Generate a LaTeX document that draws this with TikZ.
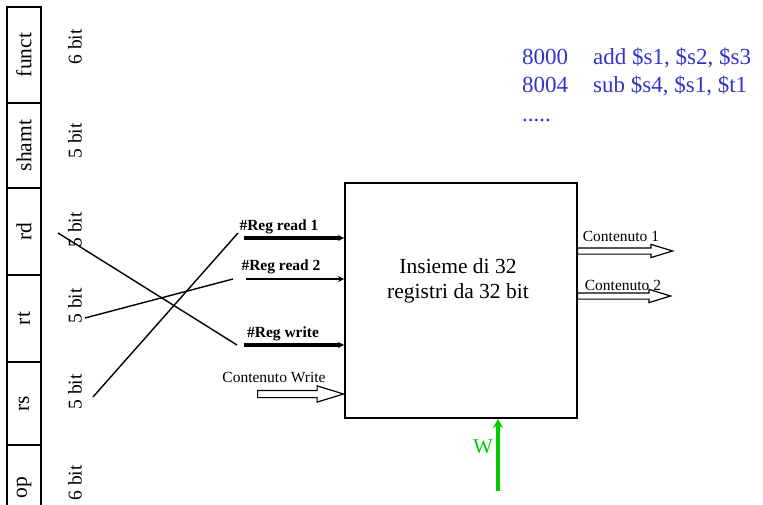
\documentclass[tikz,border=0pt]{standalone}
\usepackage{fontspec}
\setmainfont{Liberation Serif}
\usetikzlibrary{arrows.meta,shapes.arrows}
\definecolor{codeblue}{RGB}{51,51,204}
\definecolor{wgreen}{RGB}{0,204,0}

\tikzset{
  field/.style={draw, line width=1.5pt, rotate=90, minimum height=34pt, inner sep=0pt,
    font=\fontsize{21.5}{24}\selectfont},
  bits/.style={rotate=90, inner sep=0pt, font=\fontsize{19.5}{22}\selectfont},
  wire/.style={line width=1.4pt},
  portlabel/.style={anchor=base, inner sep=0pt, font=\fontsize{15.5}{18}\selectfont},
  code/.style={anchor=base west, inner sep=0pt, text=codeblue, font=\fontsize{23}{28}\selectfont},
  hollow/.style={single arrow, draw, line width=1.2pt, anchor=tail, inner xsep=0pt,
    inner ysep=3pt, single arrow head extend=4.5pt, single arrow tip angle=34,
    minimum height=#1},
}

\begin{document}
\begin{tikzpicture}[x=1pt, y=-1pt, >={Stealth[length=6pt,width=6pt]}]
    \useasboundingbox (0,0) rectangle (763,505);

    % instruction fields
    \foreach \name/\y/\h in {funct/55/96, shamt/145.5/85, rd/231.5/87, rt/318.5/87, rs/403.5/83, op/487.5/85} {
        \node[field, minimum width=\h pt] (\name) at (24,\y) {\name};
    }
    \foreach \y/\n in {47/6, 141/5, 230/5, 306/5, 392/5, 483/6} {
        \node[bits] (bit\y) at (75,\y) {\n\ bit};
    }

    % register file
    \node[draw, line width=1.8pt, minimum width=232pt, minimum height=235pt] (regs) at (461,300.5) {};
    \node[align=center, font=\fontsize{21.5}{25}\selectfont] (regtext) at (458,281) {Insieme di 32\\ registri da 32 bit};

    % inputs
    \coordinate (in1) at (244,238);
    \coordinate (in2) at (246,279);
    \coordinate (in3) at (244,345);
    \draw[->, line width=3.5pt] (in1) -- (in1 -| regs.west);
    \draw[->, line width=1.5pt] (in2) -- (in2 -| regs.west);
    \draw[->, line width=3.5pt] (in3) -- (in3 -| regs.west);
    \node[portlabel] (lab1) at (279,231) {\bfseries\#Reg read 1};
    \node[portlabel] (lab2) at (281,270) {\bfseries\#Reg read 2};
    \node[portlabel] (lab3) at (283,337) {\bfseries\#Reg write};

    \node[hollow=86pt] (wrdata) at (257,394) {};
    \node[portlabel] (lab4) at (274,382) {Contenuto Write};

    % fields to register numbers
    \coordinate (rdend) at (58,233);
    \coordinate (rtend) at (85,318);
    \coordinate (rsend) at (93,397);
    \coordinate (w1) at (238,233);
    \coordinate (w2) at (233,279);
    \coordinate (w3) at (237,345);
    \draw[wire] (rdend) -- (w3);
    \draw[wire] (rtend) -- (w2);
    \draw[wire] (rsend) -- (w1);

    % outputs
    \node[hollow=95pt, inner ysep=2.5pt, single arrow head extend=3.5pt] (out1) at (577,251) {};
    \node[hollow=93pt, inner ysep=2.5pt, single arrow head extend=3.5pt] (out2) at (577,296) {};
    \node[portlabel] (lab5) at (621,242) {Contenuto 1};
    \node[portlabel] (lab6) at (623,290) {Contenuto 2};

    % write enable
    \coordinate (wbot) at (498,491);
    \draw[->, wgreen, line width=4pt, >={Stealth[length=9pt,width=10pt]}] (wbot) -- (wbot |- regs.south);
    \node[anchor=base, inner sep=0pt, text=wgreen, font=\fontsize{21}{24}\selectfont] (wlab) at (483,453) {W};

    % program
    \node[code] (addr1) at (522,65) {8000};
    \node[code] (ins1) at (593,65) {add \$s1, \$s2, \$s3};
    \node[code] (addr2) at (522,93) {8004};
    \node[code] (ins2) at (593,93) {sub \$s4, \$s1, \$t1};
    \node[code] (dots) at (522,122) {.....};
\end{tikzpicture}
\end{document}
